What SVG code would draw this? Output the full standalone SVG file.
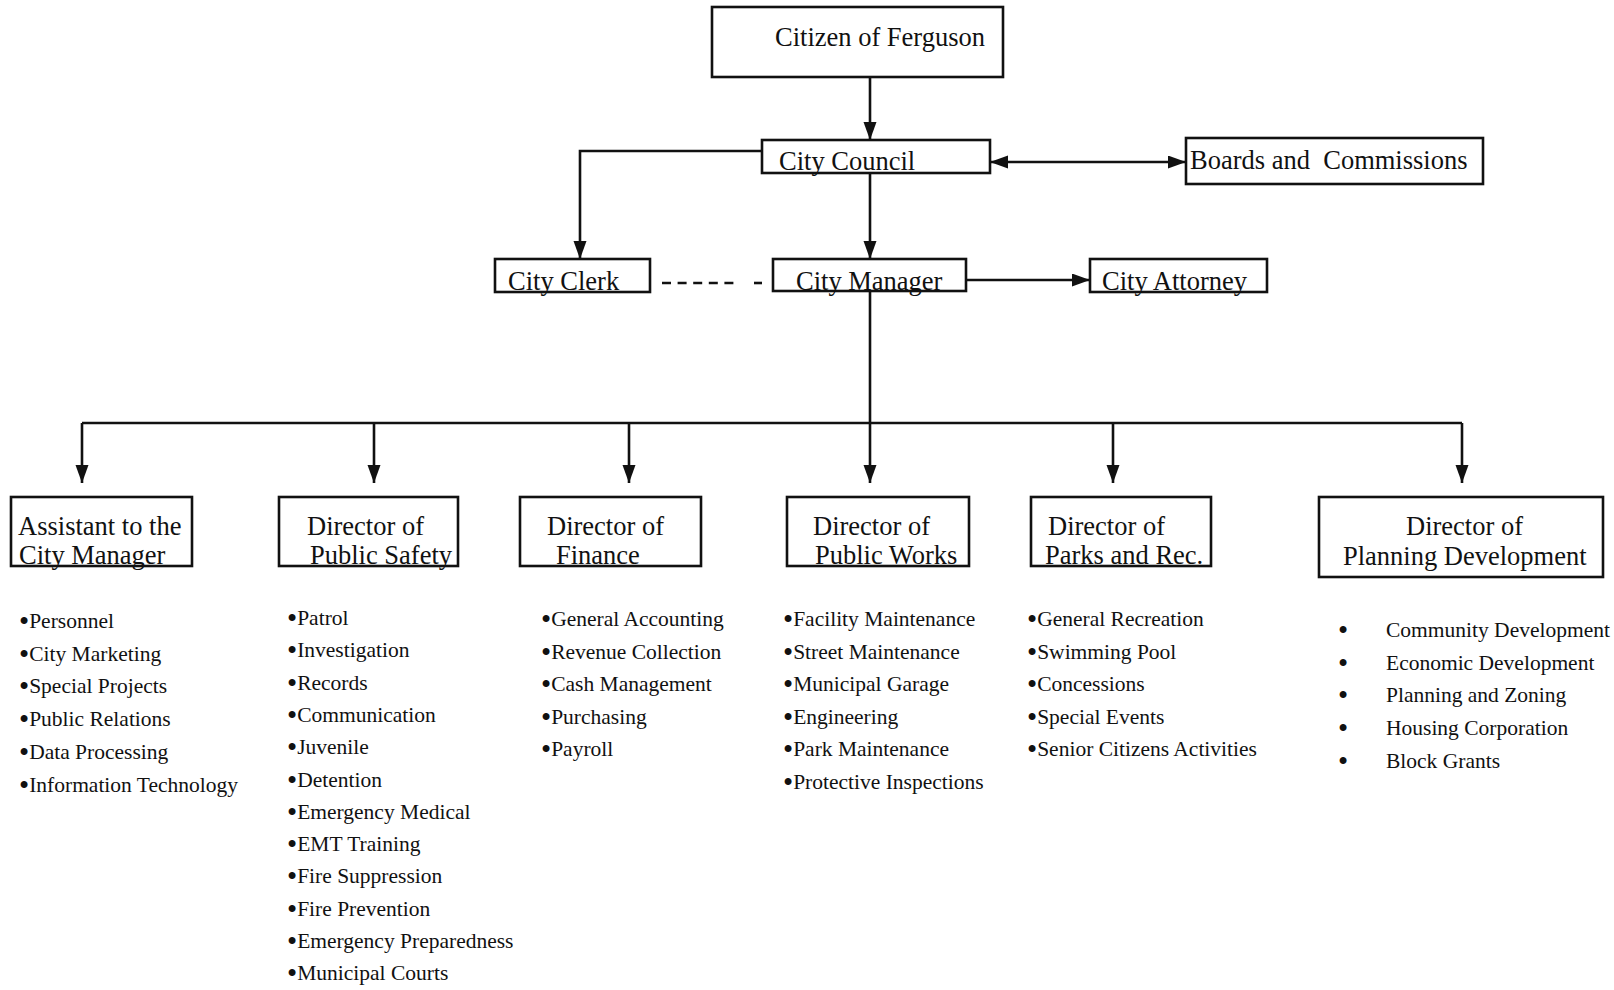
<svg xmlns="http://www.w3.org/2000/svg" width="1614" height="990" viewBox="0 0 1614 990">
<style>
.box{fill:#fff;stroke:#111;stroke-width:2.6}
.t{font-family:"Liberation Serif","Times New Roman",serif;font-size:26.5px;fill:#111}
.l{font-family:"Liberation Serif","Times New Roman",serif;font-size:21.5px;fill:#111}
.b{font-size:29px}
.c{fill:none;stroke:#111;stroke-width:2.6}
</style>
<defs>
<marker id="ah" markerUnits="userSpaceOnUse" markerWidth="20" markerHeight="14" refX="18" refY="6.5" orient="auto-start-reverse">
<path d="M0,0 L18,6.5 L0,13 z" fill="#111"/>
</marker>
</defs>
<rect width="1614" height="990" fill="#fff"/>
<g id="connectors">
<line class="c" x1="870" y1="77" x2="870" y2="140" marker-end="url(#ah)"/>
<line class="c" x1="870" y1="173" x2="870" y2="259" marker-end="url(#ah)"/>
<polyline class="c" points="762,151 580,151 580,259" marker-end="url(#ah)"/>
<line class="c" x1="990" y1="162" x2="1186" y2="162" marker-start="url(#ah)" marker-end="url(#ah)"/>
<line class="c" x1="966" y1="280" x2="1090" y2="280" marker-end="url(#ah)"/>
<line class="c" x1="662" y1="283" x2="734" y2="283" stroke-dasharray="9,6.6"/>
<line class="c" x1="754" y1="283" x2="762" y2="283"/>
<line class="c" x1="870" y1="291" x2="870" y2="483" marker-end="url(#ah)"/>
<line class="c" x1="82" y1="423" x2="1462" y2="423"/>
<line class="c" x1="82" y1="423" x2="82" y2="483" marker-end="url(#ah)"/>
<line class="c" x1="374" y1="423" x2="374" y2="483" marker-end="url(#ah)"/>
<line class="c" x1="629" y1="423" x2="629" y2="483" marker-end="url(#ah)"/>
<line class="c" x1="1113" y1="423" x2="1113" y2="483" marker-end="url(#ah)"/>
<line class="c" x1="1462" y1="423" x2="1462" y2="483" marker-end="url(#ah)"/>
</g>
<g id="citizen">
<rect class="box" x="712" y="7" width="291" height="70"/>
<text class="t" x="775" y="46">Citizen of Ferguson</text>
</g>
<g id="council">
<rect class="box" x="762" y="140" width="228" height="33"/>
<text class="t" x="779" y="170">City Council</text>
</g>
<g id="boards">
<rect class="box" x="1186" y="138" width="297" height="46"/>
<text class="t" x="1190" y="169" xml:space="preserve">Boards and  Commissions</text>
</g>
<g id="clerk">
<rect class="box" x="495" y="259" width="155" height="33"/>
<text class="t" x="508" y="290">City Clerk</text>
</g>
<g id="manager">
<rect class="box" x="773" y="259" width="193" height="32"/>
<text class="t" x="796" y="290">City Manager</text>
</g>
<g id="attorney">
<rect class="box" x="1090" y="259" width="177" height="33"/>
<text class="t" x="1102" y="290">City Attorney</text>
</g>
<g id="assistant">
<rect class="box" x="11" y="497" width="181" height="69"/>
<text class="t" x="18" y="535">Assistant to the</text>
<text class="t" x="19" y="564">City Manager</text>
</g>
<g id="safety">
<rect class="box" x="279" y="497" width="179" height="69"/>
<text class="t" x="307" y="535">Director of</text>
<text class="t" x="310" y="564">Public Safety</text>
</g>
<g id="finance">
<rect class="box" x="520" y="497" width="181" height="69"/>
<text class="t" x="547" y="535">Director of</text>
<text class="t" x="556" y="564">Finance</text>
</g>
<g id="works">
<rect class="box" x="787" y="497" width="182" height="69"/>
<text class="t" x="813" y="535">Director of</text>
<text class="t" x="815" y="564">Public Works</text>
</g>
<g id="parks">
<rect class="box" x="1031" y="497" width="180" height="69"/>
<text class="t" x="1048" y="535">Director of</text>
<text class="t" x="1045" y="564">Parks and Rec.</text>
</g>
<g id="planning">
<rect class="box" x="1319" y="497" width="284" height="80"/>
<text class="t" x="1406" y="535">Director of</text>
<text class="t" x="1343" y="565">Planning Development</text>
</g>
<g id="list-assistant">
<text class="l" x="19" y="628"><tspan class="b" dy="3">•</tspan><tspan dy="-3">Personnel</tspan></text>
<text class="l" x="19" y="660.7"><tspan class="b" dy="3">•</tspan><tspan dy="-3">City Marketing</tspan></text>
<text class="l" x="19" y="693.4"><tspan class="b" dy="3">•</tspan><tspan dy="-3">Special Projects</tspan></text>
<text class="l" x="19" y="726.1"><tspan class="b" dy="3">•</tspan><tspan dy="-3">Public Relations</tspan></text>
<text class="l" x="19" y="758.8"><tspan class="b" dy="3">•</tspan><tspan dy="-3">Data Processing</tspan></text>
<text class="l" x="19" y="791.5"><tspan class="b" dy="3">•</tspan><tspan dy="-3">Information Technology</tspan></text>
</g>
<g id="list-safety">
<text class="l" x="287" y="625"><tspan class="b" dy="3">•</tspan><tspan dy="-3">Patrol</tspan></text>
<text class="l" x="287" y="657.3"><tspan class="b" dy="3">•</tspan><tspan dy="-3">Investigation</tspan></text>
<text class="l" x="287" y="689.6"><tspan class="b" dy="3">•</tspan><tspan dy="-3">Records</tspan></text>
<text class="l" x="287" y="721.9"><tspan class="b" dy="3">•</tspan><tspan dy="-3">Communication</tspan></text>
<text class="l" x="287" y="754.2"><tspan class="b" dy="3">•</tspan><tspan dy="-3">Juvenile</tspan></text>
<text class="l" x="287" y="786.5"><tspan class="b" dy="3">•</tspan><tspan dy="-3">Detention</tspan></text>
<text class="l" x="287" y="818.8"><tspan class="b" dy="3">•</tspan><tspan dy="-3">Emergency Medical</tspan></text>
<text class="l" x="287" y="851.1"><tspan class="b" dy="3">•</tspan><tspan dy="-3">EMT Training</tspan></text>
<text class="l" x="287" y="883.4"><tspan class="b" dy="3">•</tspan><tspan dy="-3">Fire Suppression</tspan></text>
<text class="l" x="287" y="915.7"><tspan class="b" dy="3">•</tspan><tspan dy="-3">Fire Prevention</tspan></text>
<text class="l" x="287" y="948"><tspan class="b" dy="3">•</tspan><tspan dy="-3">Emergency Preparedness</tspan></text>
<text class="l" x="287" y="980.3"><tspan class="b" dy="3">•</tspan><tspan dy="-3">Municipal Courts</tspan></text>
</g>
<g id="list-finance">
<text class="l" x="541" y="626"><tspan class="b" dy="3">•</tspan><tspan dy="-3">General Accounting</tspan></text>
<text class="l" x="541" y="658.6"><tspan class="b" dy="3">•</tspan><tspan dy="-3">Revenue Collection</tspan></text>
<text class="l" x="541" y="691.2"><tspan class="b" dy="3">•</tspan><tspan dy="-3">Cash Management</tspan></text>
<text class="l" x="541" y="723.8"><tspan class="b" dy="3">•</tspan><tspan dy="-3">Purchasing</tspan></text>
<text class="l" x="541" y="756.4"><tspan class="b" dy="3">•</tspan><tspan dy="-3">Payroll</tspan></text>
</g>
<g id="list-works">
<text class="l" x="783" y="626"><tspan class="b" dy="3">•</tspan><tspan dy="-3">Facility Maintenance</tspan></text>
<text class="l" x="783" y="658.6"><tspan class="b" dy="3">•</tspan><tspan dy="-3">Street Maintenance</tspan></text>
<text class="l" x="783" y="691.2"><tspan class="b" dy="3">•</tspan><tspan dy="-3">Municipal Garage</tspan></text>
<text class="l" x="783" y="723.8"><tspan class="b" dy="3">•</tspan><tspan dy="-3">Engineering</tspan></text>
<text class="l" x="783" y="756.4"><tspan class="b" dy="3">•</tspan><tspan dy="-3">Park Maintenance</tspan></text>
<text class="l" x="783" y="789"><tspan class="b" dy="3">•</tspan><tspan dy="-3">Protective Inspections</tspan></text>
</g>
<g id="list-parks">
<text class="l" x="1027" y="626"><tspan class="b" dy="3">•</tspan><tspan dy="-3">General Recreation</tspan></text>
<text class="l" x="1027" y="658.6"><tspan class="b" dy="3">•</tspan><tspan dy="-3">Swimming Pool</tspan></text>
<text class="l" x="1027" y="691.2"><tspan class="b" dy="3">•</tspan><tspan dy="-3">Concessions</tspan></text>
<text class="l" x="1027" y="723.8"><tspan class="b" dy="3">•</tspan><tspan dy="-3">Special Events</tspan></text>
<text class="l" x="1027" y="756.4"><tspan class="b" dy="3">•</tspan><tspan dy="-3">Senior Citizens Activities</tspan></text>
</g>
<g id="list-planning">
<text class="l b" x="1338" y="640">•</text><text class="l" x="1386" y="637">Community Development</text>
<text class="l b" x="1338" y="672.7">•</text><text class="l" x="1386" y="669.7">Economic Development</text>
<text class="l b" x="1338" y="705.4">•</text><text class="l" x="1386" y="702.4">Planning and Zoning</text>
<text class="l b" x="1338" y="738.1">•</text><text class="l" x="1386" y="735.1">Housing Corporation</text>
<text class="l b" x="1338" y="770.8">•</text><text class="l" x="1386" y="767.8">Block Grants</text>
</g>
</svg>
